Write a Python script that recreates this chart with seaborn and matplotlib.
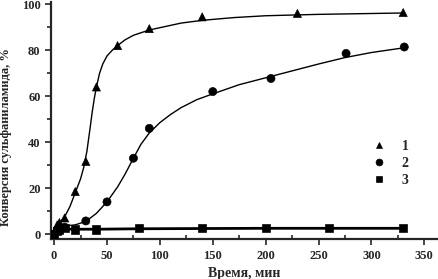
# Conversion of sulfanilamide vs time, three samples
import seaborn as sns
import matplotlib.pyplot as plt
import pandas as pd
from matplotlib.ticker import MultipleLocator

# measured points
t1 = [0, 3, 5, 10, 20, 30, 40, 60, 90, 140, 230, 330]
y1 = [0, 4, 5, 7, 18.5, 31.6, 64, 82, 89.4, 94.5, 96, 96.4]
t2 = [0, 3, 5, 10, 30, 50, 75, 90, 150, 205, 276, 331]
y2 = [0, 2, 3, 3, 5.7, 14, 33, 46, 62, 67.7, 78.6, 81.4]
t3 = [0, 3, 5, 10, 20, 40, 80, 140, 200, 260, 330]
y3 = [0, 1.5, 2, 2.5, 2, 2, 2.5, 2.5, 2.5, 2.5, 2.5]

# fitted curves
ft1 = [0, 2.5, 6, 10, 15, 20, 25, 28, 31, 34, 36, 38, 40, 43, 46, 50, 55, 60,
       67, 75, 90, 100, 120, 140, 170, 200, 250, 330]
fy1 = [0, 3.5, 5.5, 7.5, 12, 18, 24, 29, 36, 46, 53, 59, 64, 70, 74, 77.5, 80, 82,
       84.5, 86.5, 88.8, 89.8, 91.8, 93, 94.2, 95, 95.6, 96.2]
ft2 = [0, 5, 10, 20, 30, 40, 50, 60, 67, 75, 82, 90, 100, 110, 120, 135, 150,
       175, 200, 225, 250, 275, 300, 330]
fy2 = [0, 3, 3.5, 4, 5.5, 9, 14, 20.5, 26, 33, 39, 44, 48.5, 52, 55, 58.5, 61,
       65, 68, 71, 74, 76.8, 79, 81]
ft3 = [0, 5, 10, 20, 40, 80, 140, 200, 260, 330]
fy3 = [0, 2.5, 2.2, 2.1, 2.1, 2.3, 2.4, 2.5, 2.5, 2.5]

labels = ['1', '2', '3']

pts = pd.concat([
    pd.DataFrame({'t': t1, 'y': y1, 's': '1'}),
    pd.DataFrame({'t': t2, 'y': y2, 's': '2'}),
    pd.DataFrame({'t': t3, 'y': y3, 's': '3'}),
])

sns.set_style('ticks')
plt.rcParams['font.family'] = ['Liberation Serif', 'DejaVu Serif']
plt.rcParams['font.weight'] = 'bold'

fig = plt.figure(figsize=(4.39, 2.79), dpi=100)
ax = fig.add_axes([0.116, 0.143, 0.882, 0.85])

# curves
sns.lineplot(x=ft1, y=fy1, color='k', lw=1.0, ax=ax, sort=False)
sns.lineplot(x=ft2, y=fy2, color='k', lw=1.0, ax=ax, sort=False)
sns.lineplot(x=ft3, y=fy3, color='k', lw=2.0, ax=ax, sort=False)

# points
sns.scatterplot(data=pts, x='t', y='y', style='s', style_order=labels,
                markers={'1': '^', '2': 'o', '3': 's'}, color='k',
                s=34, edgecolor='k', ax=ax, zorder=3)

ax.set_xlim(-3, 363)
ax.set_ylim(-2.2, 101)
ax.xaxis.set_major_locator(MultipleLocator(50))
ax.xaxis.set_minor_locator(MultipleLocator(25))
ax.yaxis.set_major_locator(MultipleLocator(20))
ax.yaxis.set_minor_locator(MultipleLocator(10))
ax.tick_params(axis='both', which='major', direction='out', length=4, width=1.2, labelsize=9)
ax.tick_params(axis='x', which='minor', direction='in', length=3, width=1.2)
ax.tick_params(axis='y', which='minor', direction='out', length=3, width=1.2)
for sp in ['left', 'bottom']:
    ax.spines[sp].set_linewidth(1.6)
sns.despine(ax=ax)

ax.set_xlabel('Время, мин', fontsize=10, fontweight='bold')
ax.set_ylabel('Конверсия сульфаниламида, %', fontsize=9, fontweight='bold')
ax.yaxis.set_label_coords(-0.1, 0.43)

ax.legend(loc='center left', bbox_to_anchor=(0.78, 0.32), frameon=False,
          fontsize=10, labelspacing=0.3, handletextpad=0.6, markerscale=0.85)

plt.savefig('out.png', dpi=100)
